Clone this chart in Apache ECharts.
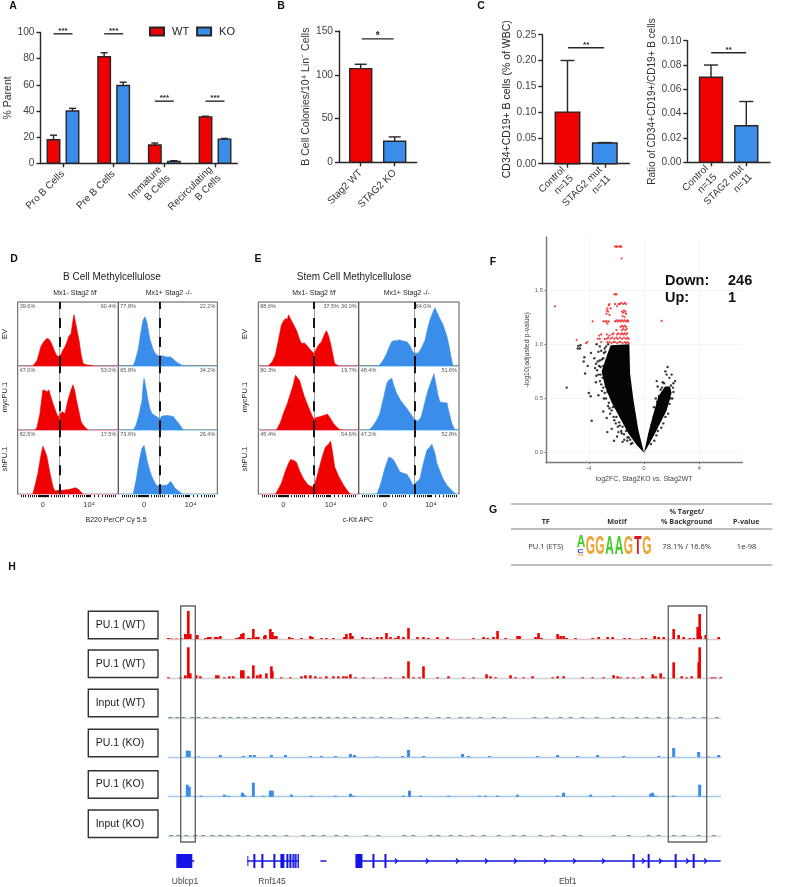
<!DOCTYPE html>
<html>
<head>
<meta charset="utf-8">
<title>Stag2 figure</title>
<script src="https://cdn.jsdelivr.net/npm/echarts@6/dist/echarts.min.js"></script>
<style>
html, body { margin: 0; padding: 0; background: #fff; }
#chart { width: 800px; height: 887px; }
</style>
</head>
<body>
<div id="chart"></div>
<script>
// panel A
const aCats = ['Pro B Cells', 'Pre B Cells', 'Immature\nB Cells', 'Recirculating\nB Cells'];
const aWt = [18, 81.5, 14, 35.5];
const aWtTop = [21.5, 84.5, 15.5, 36];
const aKo = [40, 59.5, 1.5, 18.5];
const aKoTop = [42, 62, 2, 19];
const aSig = [[0, 99, '***'], [1, 99, '***'], [2, 47.5, '***'], [3, 47.5, '***']];

// panel B
const bCats = ['Stag2 WT', 'STAG2 KO'];
const bVals = [107, 24];
const bTops = [112, 29];

// panel C
const cCats = ['Control\nn=15', 'STAG2 mut\nn=11'];
const c1Vals = [0.1, 0.04];
const c1Tops = [0.2, 0.041];
const c2Vals = [0.07, 0.03];
const c2Tops = [0.08, 0.05];

// panel D histograms, [percent of panel width, percent of row height]
const dWtEv = [[15,0],[17,4],[19,8],[21,18],[23,30],[25,36],[27,40],[29,43],[31,42],[33,37],[35,30],[37,22],[39,16],[41,15],[43,18],[45,25],[47,30],[49,38],[51,47],[53,50],[55,72],[56,80],[57,78],[59,56],[61,40],[63,18],[65,4],[68,2],[72,1],[75,0]];
const dKoEv = [[15,0],[17,8],[20,25],[23,55],[25,72],[27,77],[29,68],[32,41],[35,27],[37,20],[40,16],[42,14],[44,16],[46,17],[49,14],[51,12],[53,14],[56,10],[59,6],[62,3],[64,1],[66,0]];
const dWtMyc = [[17,0],[19,4],[22,25],[25,63],[27,62],[29,60],[31,63],[33,52],[35,42],[38,29],[40,21],[42,25],[44,29],[47,26],[50,47],[53,63],[55,71],[57,60],[58,50],[61,28],[63,13],[66,6],[70,0]];
const dKoMyc = [[15,0],[18,8],[21,25],[24,47],[25,70],[26,81],[28,65],[30,47],[32,33],[34,26],[37,23],[39,21],[42,18],[44,22],[46,25],[50,23],[56,21],[58,16],[61,11],[64,4],[66,0]];
const dWtSh = [[15,0],[17,12],[20,32],[23,60],[25,75],[27,68],[29,59],[31,42],[33,26],[35,12],[37,5],[41,6],[45,6],[49,7],[53,8],[57,10],[60,8],[62,5],[65,0]];
const dKoSh = [[15,0],[18,22],[20,42],[22,59],[24,72],[26,76],[28,62],[29,53],[32,36],[34,27],[37,18],[39,13],[42,14],[46,14],[49,14],[51,17],[53,20],[55,15],[57,10],[60,6],[64,1],[66,0]];

// panel E histograms
const eWtEv = [[10,0],[14,7],[17,17],[20,40],[23,64],[25,70],[27,74],[29,73],[30,80],[32,74],[33,72],[36,62],[38,56],[41,42],[43,35],[46,36],[48,33],[51,27],[55,20],[57,24],[60,33],[63,38],[66,50],[68,55],[70,47],[72,35],[74,20],[76,4],[80,0]];
const eKoEv = [[20,0],[24,8],[28,20],[31,32],[33,38],[36,40],[38,39],[40,41],[44,39],[48,38],[51,32],[54,22],[57,20],[59,20],[62,26],[66,40],[69,60],[71,72],[74,84],[76,91],[78,84],[81,74],[84,65],[88,46],[90,32],[92,15],[94,0]];
const eWtMyc = [[18,0],[22,12],[25,26],[29,42],[32,57],[35,72],[37,86],[39,82],[41,78],[44,62],[46,52],[50,36],[53,25],[55,18],[58,20],[61,21],[65,23],[69,25],[72,18],[75,10],[78,5],[81,1],[85,0]];
const eKoMyc = [[10,0],[14,6],[18,16],[21,26],[25,52],[28,73],[30,78],[33,81],[35,70],[38,57],[42,46],[48,34],[52,25],[55,18],[59,14],[62,20],[64,31],[67,50],[69,62],[72,75],[75,88],[77,72],[79,55],[81,44],[85,43],[88,43],[90,28],[93,10],[96,0]];
const eWtSh = [[17,0],[20,8],[23,17],[27,36],[30,48],[32,54],[35,53],[38,50],[41,37],[45,24],[48,18],[50,14],[55,11],[58,25],[61,43],[64,60],[67,74],[70,78],[72,83],[74,65],[76,43],[80,28],[85,14],[88,7],[91,1],[93,0]];
const eKoSh = [[18,0],[21,12],[23,22],[26,40],[30,58],[33,56],[35,53],[38,44],[41,35],[44,33],[48,31],[51,24],[54,14],[57,18],[61,24],[64,45],[68,69],[71,74],[73,78],[76,64],[78,48],[81,36],[84,24],[88,14],[94,4],[97,0]];

const dGate = [41.5, 41.7];
const eGate = [55.5, 55.8];
const flowTicks = [4,6,8,10,12,14,16,18,20,21,22,23,24,25,26,27,28,29,30,33,36,38,40,42,44,46,50,55,58,60,62,64,66,68,69,70,71,72,76,80,84,87,89,91,93,95,97];
const dPct = [
  [['39.6%'], ['60.4%']], [['77.8%'], ['22.2%']],
  [['47.0%'], ['53.0%']], [['65.8%'], ['34.2%']],
  [['82.5%'], ['17.5%']], [['73.6%'], ['26.4%']]
];
const ePct = [
  [['88.6%'], ['36.0%']], [[''], ['']],
  [['80.3%'], ['19.7%']], [['48.4%'], ['51.6%']],
  [['45.4%'], ['54.6%']], [['47.2%'], ['52.8%']]
];

// panel F, [log2FC, -log10 p]
const denseDown = [[0,0],[-0.53,0.07],[-1.14,0.18],[-1.74,0.32],[-2.34,0.46],[-2.83,0.61],[-3.07,0.75],[-2.71,0.89],[-2.42,0.99],[-1.06,1.0],[-1.01,0.73],[-0.77,0.49],[-0.41,0.21]];
const denseUp = [[0,0],[0.31,0.18],[0.68,0.36],[1.04,0.52],[1.52,0.61],[1.88,0.61],[2.0,0.55],[1.64,0.39],[1.16,0.27],[0.68,0.15],[0.19,0.04]];
const nsPoints = [[-5.6,0.6],[-4.0,0.55],[-3.86,0.52],[-3.79,0.295],[-4.76,0.985],[-4.6,0.99],[-4.8,0.96],[-4.64,0.96],[-4.32,0.88],[-4.37,0.84],[-4.08,0.8],[-4.27,0.73],[-3.84,0.92],[-3.43,1.0],[-3.6,0.87],[-3.48,0.82],[-3.3,0.93],[-3.2,0.85],[-2.95,0.38],[-2.7,0.32],[-2.66,0.19],[-2.17,0.11],[-2.34,0.22],[-1.86,0.19],[-1.62,0.18],[-1.43,0.12],[-1.21,0.11],[-3.48,0.65],[-3.19,0.66],[-3.3,0.53],[-3.4,0.76],[-3.3,0.72],[-3.25,0.8],[-3.1,0.94],[-2.9,0.92],[-2.75,0.98],[-2.6,1.0],[-2.55,0.7],[-3.05,0.57],[-2.9,0.5],[-2.6,0.43],[-2.45,0.36],[-2.2,0.33],[-2.05,0.27],[-1.75,0.25],[-1.55,0.24],[-1.3,0.2],[-1.0,0.12],[-0.85,0.09],[-1.55,0.1],[-1.95,0.15],[-3.55,0.78],[-3.45,0.71],[-3.35,0.84],[-3.15,0.79],[-3.15,0.72],[-3.05,0.86],[-2.95,0.8],[-3.0,0.69],[-3.1,0.63],[-2.95,0.6],[-2.85,0.55],[-2.75,0.5],[-2.65,0.56],[-2.55,0.46],[-2.5,0.41],[-2.35,0.39],[-2.25,0.42],[-2.15,0.3],[-2.0,0.33],[-1.9,0.24],[-1.8,0.28],[-1.65,0.2],[-1.45,0.17],[-1.2,0.14],[-2.85,0.96],[-3.2,0.98],[-2.95,0.87],[-2.8,0.93],[-1.1,0.14],[-0.95,0.08],[1.71,0.79],[1.55,0.75],[1.64,0.72],[2.0,0.72],[1.84,0.69],[2.25,0.66],[2.13,0.64],[0.92,0.66],[0.99,0.61],[0.85,0.5],[1.09,0.52],[2.13,0.56],[1.3,0.6],[1.95,0.62],[2.05,0.5],[1.85,0.45],[1.75,0.36],[1.4,0.27],[1.0,0.2],[0.75,0.11],[0.72,0.42],[1.35,0.65],[1.45,0.64],[1.2,0.58],[0.95,0.47],[0.7,0.33],[0.55,0.26],[0.4,0.17],[1.55,0.33],[1.25,0.23],[0.9,0.16],[0.5,0.08],[2.1,0.6],[1.92,0.5]];
const sigPoints = [[-2.1,1.9],[-2.0,1.9],[-1.95,1.9],[-1.8,1.9],[-1.7,1.9],[-1.65,1.9],[-1.62,1.79],[-2.15,1.46],[-2.05,1.46],[-2.0,1.46],[-6.45,1.35],[1.28,1.215],[-3.72,1.21],[-4.88,1.04],[-4.2,1.01],[-4.1,1.02],[-2.55,1.36],[-2.5,1.37],[-2.65,1.33],[-2.7,1.31],[-2.72,1.28],[-2.6,1.3],[-2.5,1.27],[-2.42,1.33],[-2.1,1.37],[-1.95,1.35],[-1.85,1.37],[-1.75,1.37],[-1.65,1.38],[-1.5,1.37],[-1.4,1.38],[-1.3,1.37],[-1.6,1.3],[-1.5,1.29],[-1.45,1.31],[-1.35,1.3],[-1.3,1.28],[-1.55,1.26],[-1.42,1.25],[-2.95,1.21],[-2.8,1.21],[-2.7,1.21],[-2.55,1.21],[-2.65,1.19],[-2.1,1.21],[-2.0,1.22],[-1.9,1.21],[-1.8,1.22],[-1.7,1.21],[-1.6,1.22],[-1.5,1.21],[-1.4,1.22],[-1.3,1.21],[-1.2,1.22],[-1.15,1.21],[-1.7,1.16],[-1.6,1.17],[-1.5,1.16],[-1.4,1.17],[-1.3,1.16],[-2.0,1.13],[-1.6,1.13],[-1.5,1.14],[-1.35,1.13],[-1.25,1.14],[-2.3,1.09],[-2.2,1.1],[-1.95,1.09],[-1.85,1.1],[-1.7,1.09],[-1.6,1.1],[-1.5,1.09],[-1.4,1.1],[-1.3,1.09],[-1.2,1.1],[-3.25,1.08],[-3.1,1.09],[-2.7,1.09],[-2.5,1.08],[-3.35,1.05],[-3.2,1.05],[-2.85,1.05],[-2.7,1.05],[-2.6,1.06],[-2.45,1.05],[-2.3,1.06],[-2.15,1.05],[-2.0,1.06],[-1.9,1.05],[-1.75,1.06],[-1.6,1.05],[-1.45,1.06],[-1.3,1.05],[-1.2,1.06],[-1.1,1.05],[-3.1,1.02],[-2.65,1.02],[-2.5,1.02],[-2.35,1.01],[-2.2,1.02],[-2.1,1.02],[-1.95,1.01],[-1.8,1.02],[-1.7,1.02],[-1.55,1.01],[-1.4,1.02],[-1.3,1.01],[-1.2,1.02],[-1.1,1.01]];

// panel H, [position, height]
const pu1Wt1 = [[0,1],[3,0.5],[8,0.5],[13,1],[17,5],[18,5],[20,28],[22,5],[29,4],[37,1],[40,2],[42,2],[47,2],[49,2],[52,3],[68,1],[71,2],[73,5],[75,6],[80,1],[82,1],[85,10],[88,2],[90,2],[96,3],[97,4],[102,10],[104,7],[106,3],[108,3],[121,2],[124,1],[133,1],[142,3],[144,2],[153,1],[158,1],[165,1],[176,2],[178,5],[182,6],[184,3],[194,2],[198,1],[202,1],[209,2],[213,2],[218,6],[222,2],[227,1],[230,3],[235,2],[240,11],[249,2],[255,2],[260,1],[269,2],[279,2],[305,1],[315,2],[319,1],[325,2],[329,8],[337,1],[349,3],[351,3],[367,2],[370,6],[373,1],[389,5],[392,3],[395,3],[398,1],[407,1],[424,1],[430,2],[439,2],[444,2],[456,1],[461,1],[473,1],[477,1],[486,3],[490,2],[495,2],[505,10],[510,4],[515,2],[521,1],[525,1],[529,12],[531,25],[532,3],[537,4],[550,2]];
const pu1Wt2 = [[0,1],[12,1],[17,3],[20,31],[22,5],[28,3],[32,2],[48,3],[50,3],[56,1],[61,2],[65,2],[73,8],[75,8],[80,2],[85,13],[89,3],[92,4],[98,5],[103,12],[104,7],[113,1],[122,1],[133,2],[137,3],[142,3],[147,2],[152,1],[158,2],[165,2],[170,2],[175,2],[178,2],[182,4],[187,1],[195,1],[205,1],[217,1],[222,1],[235,2],[240,17],[245,1],[251,1],[255,12],[269,1],[280,2],[295,1],[305,1],[318,4],[322,2],[327,1],[342,3],[347,1],[355,1],[364,2],[384,1],[389,2],[395,2],[414,1],[424,1],[435,1],[445,3],[449,2],[452,1],[459,1],[465,1],[474,2],[484,4],[487,2],[492,5],[495,1],[505,16],[513,2],[518,1],[523,2],[530,16],[531,31],[543,1],[546,1],[552,1]];
const inputWt = [[2,1],[9,1],[15,1],[24,1],[30,1],[38,1],[46,1],[55,1],[62,1],[70,1],[77,1],[86,1],[94,1],[101,1],[110,1],[118,1],[128,1],[136,1],[145,1],[152,1],[160,1],[169,1],[177,1],[186,1],[195,1],[203,1],[213,1],[222,1],[238,1],[248,1],[258,1],[270,1],[280,1],[292,1],[300,1],[312,1],[325,1],[336,1],[366,1],[378,1],[392,1],[402,1],[414,1],[428,1],[444,1],[454,1],[468,1],[478,1],[490,1],[500,1],[512,1],[525,1],[535,1],[548,1]];
const pu1Ko1 = [[19,6.5],[21,6],[30,0.5],[52,2],[75,1],[82,2],[86,2],[103,2],[117,2],[142,1],[153,1],[167,1],[182,3],[186,2],[208,0.5],[234,1],[240,7],[255,1],[294,3],[300,1],[321,1],[369,1],[389,2],[409,1],[429,2],[455,1],[490,1],[505,9],[530,5],[540,0.5],[550,2]];
const pu1Ko2 = [[19,12],[21,10],[33,1],[56,2],[60,1],[74,4],[76,2],[85,14],[95,1],[102,6],[104,6],[123,2],[143,1],[167,1],[182,3],[185,1],[235,1],[241,6],[252,1],[280,1],[311,1],[317,1],[329,1],[349,2],[389,1],[395,4],[422,2],[445,1],[482,3],[484,4],[487,1],[505,1],[531,12],[536,0.5]];
const inputKo = [[3,1],[10,1],[18,1],[27,1],[35,1],[44,1],[52,1],[60,1],[70,1],[80,1],[90,1],[98,1],[106,1],[118,1],[135,1],[145,1],[155,1],[168,1],[178,1],[198,1],[210,1],[236,1],[245,1],[262,1],[270,1],[282,1],[292,1],[304,1],[315,1],[330,1],[345,1],[355,1],[372,1],[384,1],[396,1],[412,1],[445,1],[460,1],[480,1],[490,1],[505,1],[515,1],[530,1],[545,1]];
const geneLines = [[13,26],[79,130],[152,158],[187,552]];
const geneExons = [[8,24,14],[79,80,10],[85,87,14],[93,95,14],[105,107,14],[112,116,14],[118,120,14],[121,123,14],[124,125.5,14],[126,127.5,14],[128,129,14],[129.5,130.5,14],[187,194,14],[204,206,14],[216,218,14],[464,466,14],[479,481,14],[506,508,14],[524,526,14]];
const geneArrows = [228,259,289,318,347,377,406,435,475,492,519,537];

const RED = '#f00000';
const BLUE = '#3a8eea';
const DARK = '#262626';
const FONT = '"Liberation Sans", Arial, sans-serif';

var grids = [], xAxes = [], yAxes = [], series = [], texts = [];

function label(x, y, text, size, opts) {
    opts = opts || {};
    texts.push({
        type: 'text', x: x, y: y, z: 20,
        rotation: opts.rot || 0,
        scaleX: opts.sx || 1, scaleY: opts.sy || 1,
        style: {
            text: text, fontFamily: opts.family || FONT, fontSize: size,
            fontWeight: opts.bold ? 'bold' : 'normal',
            fill: opts.color || '#222',
            align: opts.align || 'center', verticalAlign: 'middle'
        }
    });
}

function errorBars(idx, rows, cap) {
    return {
        type: 'custom', xAxisIndex: idx, yAxisIndex: idx, clip: false, silent: true, z: 3,
        data: rows,
        encode: { x: 0, y: 2 },
        renderItem: function(params, api) {
            var base = api.coord([api.value(0), api.value(1)]);
            var top = api.coord([api.value(0), api.value(2)]);
            var st = { stroke: DARK, lineWidth: 1.4 };
            return { type: 'group', children: [
                { type: 'line', shape: { x1: base[0], y1: base[1], x2: top[0], y2: top[1] }, style: st },
                { type: 'line', shape: { x1: top[0] - cap, y1: top[1], x2: top[0] + cap, y2: top[1] }, style: st }
            ] };
        }
    };
}

function sigBars(idx, rows, half, stars) {
    return {
        type: 'custom', xAxisIndex: idx, yAxisIndex: idx, clip: false, silent: true,
        data: rows.map(function(r) { return [r[0], r[1]]; }),
        renderItem: function(params, api) {
            var p = api.coord([api.value(0), api.value(1)]);
            return { type: 'group', children: [
                { type: 'line', shape: { x1: p[0] - half, y1: p[1], x2: p[0] + half, y2: p[1] }, style: { stroke: DARK, lineWidth: 1.4 } },
                { type: 'text', style: { text: rows[params.dataIndex][2], x: p[0], y: p[1] - 3, align: 'center', verticalAlign: 'middle', fontSize: stars, fontWeight: 'bold', fontFamily: FONT, fill: '#222' } }
            ] };
        }
    };
}

// one GraphPad style bar panel; x0 and step place category 0 and the category spacing
function barAxes(o) {
    var idx = grids.length;
    grids.push({ left: o.left, top: o.top, width: o.right - o.left, height: o.bottom - o.top });
    var ticks = o.cats.map(function(c, i) { return i; });
    xAxes.push({
        gridIndex: idx, type: 'value',
        min: (o.left - o.x0) / o.step, max: (o.right - o.x0) / o.step,
        splitLine: { show: false },
        axisLine: { onZero: false, lineStyle: { color: DARK, width: 1.4 } },
        axisTick: { length: 4, lineStyle: { color: DARK, width: 1.4 }, customValues: ticks },
        axisLabel: {
            customValues: ticks, rotate: 45, margin: 9, fontSize: o.catSize || 10, fontFamily: FONT, color: '#333',
            lineHeight: o.catLine || 12,
            formatter: function(v) { return o.cats[Math.round(v)]; }
        }
    });
    yAxes.push({
        gridIndex: idx, type: 'value', min: 0, max: o.max, interval: o.interval,
        name: o.name, nameLocation: 'middle', nameGap: o.nameGap,
        nameTextStyle: { fontSize: o.nameSize || 10.5, fontFamily: FONT, color: o.nameColor || '#333' },
        splitLine: { show: false },
        axisLine: { show: true, onZero: false, lineStyle: { color: DARK, width: 1.4 } },
        axisTick: { show: true, length: 4, lineStyle: { color: DARK, width: 1.4 } },
        axisLabel: {
            margin: 6, fontSize: 10.2, fontFamily: FONT, color: '#444',
            formatter: function(v) { return o.digits ? v.toFixed(o.digits) : String(v); }
        }
    });
    return idx;
}

// bars are custom rects: a real bar series on a value axis widens the axis range
function barSeries(idx, name, rows, color, width, noBorder) {
    return {
        type: 'custom', name: name, xAxisIndex: idx, yAxisIndex: idx, silent: true,
        data: rows, encode: { x: 0, y: 1 },
        itemStyle: { color: color, borderColor: DARK, borderWidth: 1.4 },
        renderItem: function(params, api) {
            var top = api.coord([api.value(0), api.value(1)]);
            var base = api.coord([api.value(0), 0]);
            return {
                type: 'rect',
                shape: { x: top[0] - width / 2, y: top[1], width: width, height: base[1] - top[1] },
                style: noBorder ? { fill: color } : { fill: color, stroke: DARK, lineWidth: 1.4 }
            };
        }
    };
}

// panel A
var ai = barAxes({ left: 40.5, right: 237.3, top: 32.5, bottom: 163.3, x0: 63, step: 50.67, cats: aCats, max: 100, interval: 20, name: '% Parent', nameGap: 27 });
var aShift = 0.1875;
var aWtX = aCats.map(function(c, i) { return i - aShift; });
var aKoX = aCats.map(function(c, i) { return i + aShift; });
series.push(barSeries(ai, 'WT', aWt.map(function(v, i) { return [aWtX[i], v]; }), RED, 12.5));
series.push(barSeries(ai, 'KO', aKo.map(function(v, i) { return [aKoX[i], v]; }), BLUE, 12.5));
series.push(errorBars(ai, aWt.map(function(v, i) { return [aWtX[i], v, aWtTop[i]]; }), 3.5));
series.push(errorBars(ai, aKo.map(function(v, i) { return [aKoX[i], v, aKoTop[i]]; }), 3.5));
series.push(sigBars(ai, aSig, 9.5, 8));

// panel B
var bi = barAxes({ left: 339, right: 416.7, top: 31, bottom: 162.3, x0: 360.7, step: 34, cats: bCats, max: 150, interval: 50, name: 'B Cell Colonies/10⁴ Lin⁻ Cells', nameGap: 26 });
series.push(barSeries(bi, 'Stag2 WT', [[0, bVals[0]]], RED, 22));
series.push(barSeries(bi, 'STAG2 KO', [[1, bVals[1]]], BLUE, 22));
series.push(errorBars(bi, bVals.map(function(v, i) { return [i, v, bTops[i]]; }), 6));
series.push(sigBars(bi, [[0.5, 141, '*']], 16, 10));

// panel C, left
var c1 = barAxes({ left: 542.3, right: 629.3, top: 34.7, bottom: 163.7, x0: 567.5, step: 37.3, cats: cCats, max: 0.25, interval: 0.05, digits: 2, name: 'CD34+CD19+ B cells (% of WBC)', nameGap: 29, nameSize: 10.5, nameColor: '#222' });
series.push(barSeries(c1, 'Control', [[0, c1Vals[0]]], RED, 24.5));
series.push(barSeries(c1, 'STAG2 mut', [[1, c1Vals[1]]], BLUE, 24.5));
series.push(errorBars(c1, c1Vals.map(function(v, i) { return [i, v, c1Tops[i]]; }), 7));
series.push(sigBars(c1, [[0.5, 0.2248, '**']], 18, 8));

// panel C, right
var c2 = barAxes({ left: 687.3, right: 770, top: 40.7, bottom: 162.3, x0: 711, step: 35.3, cats: cCats, max: 0.1, interval: 0.02, digits: 2, name: 'Ratio of CD34+CD19+/CD19+ B cells', nameGap: 26, nameSize: 10 });
series.push(barSeries(c2, 'Control ratio', [[0, c2Vals[0]]], RED, 23));
series.push(barSeries(c2, 'STAG2 mut ratio', [[1, c2Vals[1]]], BLUE, 23));
series.push(errorBars(c2, c2Vals.map(function(v, i) { return [i, v, c2Tops[i]]; }), 7));
series.push(sigBars(c2, [[0.5, 0.0901, '**']], 17.5, 8));

// flow histogram panel
function flowPanel(box, rows, color, baseColor, gate, pct, zeroAt, tenAt, bottomRow) {
    var idx = grids.length;
    grids.push({ left: box.x, top: box.y, width: box.w, height: box.h, show: true, borderColor: '#555', borderWidth: 1, backgroundColor: 'transparent' });
    xAxes.push({
        gridIndex: idx, type: 'value', min: 0, max: 100,
        splitLine: { show: false },
        axisLine: { show: false },
        axisTick: { show: bottomRow, length: 3, lineStyle: { color: '#111', width: 1 }, customValues: flowTicks },
        axisLabel: {
            show: bottomRow, customValues: [zeroAt, tenAt], margin: 7, fontSize: 7.5, fontFamily: FONT, color: '#333',
            formatter: function(v) { return v === zeroAt ? '0' : '10⁴'; }
        }
    });
    yAxes.push({ gridIndex: idx, type: 'value', min: 0, max: 100, show: false, splitLine: { show: false } });
    series.push({
        type: 'line', xAxisIndex: idx, yAxisIndex: idx, data: rows, symbol: 'none', silent: true,
        lineStyle: { color: color, width: 0.6 },
        areaStyle: { color: color, opacity: 1 },
        markLine: {
            silent: true, symbol: 'none', animation: false, label: { show: false },
            data: [
                { yAxis: 0, lineStyle: { color: baseColor, width: 1.2, type: 'solid' } },
                { xAxis: gate, lineStyle: { color: '#888', width: 0.8, type: 'solid' } },
                { xAxis: gate, lineStyle: { color: '#000', width: 1.8, type: [10, 9] } }
            ]
        }
    });
    series.push({
        type: 'custom', xAxisIndex: idx, yAxisIndex: idx, silent: true, z: 6,
        data: [[2, 93], [98, 93]],
        renderItem: function(params, api) {
            var p = api.coord([api.value(0), api.value(1)]);
            return { type: 'text', style: {
                text: pct[params.dataIndex][0], x: p[0], y: p[1],
                align: params.dataIndex ? 'right' : 'left', verticalAlign: 'middle',
                fontSize: 5.5, fontFamily: FONT, fill: '#555'
            } };
        }
    });
}

var rowTops = [302, 366.2, 430.2];
var rowH = 64;
var dHist = [dWtEv, dKoEv, dWtMyc, dKoMyc, dWtSh, dKoSh];
var eHist = [eWtEv, eKoEv, eWtMyc, eKoMyc, eWtSh, eKoSh];
dHist.forEach(function(rows, i) {
    var col = i % 2, row = Math.floor(i / 2);
    flowPanel({ x: col ? 118.3 : 17.7, y: rowTops[row], w: col ? 99 : 100.6, h: rowH }, rows,
        col ? BLUE : RED, col ? '#a6dcf8' : '#f8a8c0', dGate[col], dPct[i],
        col ? 26 : 25, col ? 73 : 71, row === 2);
});
eHist.forEach(function(rows, i) {
    var col = i % 2, row = Math.floor(i / 2);
    flowPanel({ x: col ? 358.7 : 258.3, y: rowTops[row], w: col ? 100.3 : 100.4, h: rowH }, rows,
        col ? BLUE : RED, col ? '#a6dcf8' : '#f8a8c0', eGate[col], ePct[i],
        col ? 26 : 25, 72, row === 2);
});

// panel F
var vi = grids.length;
grids.push({ left: 546, top: 237, width: 196.3, height: 225.7 });
xAxes.push({
    gridIndex: vi, type: 'value', min: -7.1, max: 7.12,
    name: 'log2FC, Stag2KO vs. Stag2WT', nameLocation: 'middle', nameGap: 13,
    nameTextStyle: { fontSize: 7, fontFamily: FONT, color: '#444' },
    splitLine: { show: true, lineStyle: { color: '#f2f2f2', width: 0.8 } },
    axisLine: { onZero: false, lineStyle: { color: '#777', width: 1.4 } },
    axisTick: { length: 1.5, lineStyle: { color: '#777' }, customValues: [-4, 0, 4] },
    axisLabel: { customValues: [-4, 0, 4], margin: 3, fontSize: 6, fontFamily: FONT, color: '#666' }
});
yAxes.push({
    gridIndex: vi, type: 'value', min: -0.092, max: 1.988,
    name: '-log10(adjusted p-value)', nameLocation: 'middle', nameGap: 11,
    nameTextStyle: { fontSize: 7, fontFamily: FONT, color: '#444' },
    splitLine: { show: true, lineStyle: { color: '#f2f2f2', width: 0.8 } },
    axisLine: { show: true, onZero: false, lineStyle: { color: '#777', width: 1.4 } },
    axisTick: { show: true, length: 1.5, lineStyle: { color: '#777' }, customValues: [0, 0.5, 1, 1.5] },
    axisLabel: { customValues: [0, 0.5, 1, 1.5], margin: 3, fontSize: 6, fontFamily: FONT, color: '#666', formatter: function(v) { return v.toFixed(1); } }
});
function denseArea(rows) {
    return {
        type: 'custom', xAxisIndex: vi, yAxisIndex: vi, silent: true,
        data: rows, encode: { x: 0, y: 1 },
        renderItem: function(params, api) {
            if (params.dataIndex) return null;
            return { type: 'polygon', shape: { points: rows.map(function(p) { return api.coord(p); }) }, style: { fill: '#050505' } };
        }
    };
}
series.push(denseArea(denseDown));
series.push(denseArea(denseUp));
series.push({ type: 'scatter', xAxisIndex: vi, yAxisIndex: vi, data: nsPoints, symbolSize: 2.4, silent: true, itemStyle: { color: '#050505' } });
series.push({ type: 'scatter', xAxisIndex: vi, yAxisIndex: vi, data: sigPoints, symbolSize: 2.2, silent: true, itemStyle: { color: '#f01010' } });

// panel H tracks
var trackRows = [
    [pu1Wt1, 639, RED, '#e0c4c4', 2.6, 'PU.1 WT 1'],
    [pu1Wt2, 678.3, RED, '#ccd4d4', 2.6, 'PU.1 WT 2'],
    [inputWt, 718, '#7f8c8c', '#ccd8d8', 4, 'Input WT'],
    [pu1Ko1, 757, BLUE, '#a8c8e8', 3, 'PU.1 KO 1'],
    [pu1Ko2, 796.7, BLUE, '#a8c8e8', 3, 'PU.1 KO 2'],
    [inputKo, 836, '#7f8c8c', '#ccd8d8', 4, 'Input KO']
];
trackRows.forEach(function(t) {
    var idx = grids.length;
    grids.push({ left: 168.3, top: t[1] - 32, width: 552.4, height: 32 });
    xAxes.push({ gridIndex: idx, type: 'value', min: 0, max: 552, splitLine: { show: false }, axisTick: { show: false }, axisLabel: { show: false }, axisLine: { lineStyle: { color: t[3], width: 1.4 } } });
    yAxes.push({ gridIndex: idx, type: 'value', min: 0, max: 32, show: false, splitLine: { show: false } });
    series.push(barSeries(idx, t[5], t[0], t[2], t[4], true));
});

// gene models share the track scale
var gi = grids.length;
var GENE = '#1414e6';
grids.push({ left: 168.3, top: 850, width: 552.4, height: 22 });
xAxes.push({ gridIndex: gi, type: 'value', min: 0, max: 552, show: false, splitLine: { show: false } });
yAxes.push({ gridIndex: gi, type: 'value', min: 0, max: 1, show: false, splitLine: { show: false } });
series.push({
    type: 'custom', xAxisIndex: gi, yAxisIndex: gi, silent: true, data: geneLines,
    renderItem: function(params, api) {
        var a = api.coord([api.value(0), 0.5]), b = api.coord([api.value(1), 0.5]);
        return { type: 'line', shape: { x1: a[0], y1: a[1], x2: b[0], y2: b[1] }, style: { stroke: GENE, lineWidth: 1.5 } };
    }
});
series.push({
    type: 'custom', xAxisIndex: gi, yAxisIndex: gi, silent: true, data: geneExons,
    renderItem: function(params, api) {
        var a = api.coord([api.value(0), 0.5]), b = api.coord([api.value(1), 0.5]);
        var h = api.value(2);
        return { type: 'rect', shape: { x: a[0], y: a[1] - h / 2, width: b[0] - a[0], height: h }, style: { fill: GENE } };
    }
});
series.push({
    type: 'custom', xAxisIndex: gi, yAxisIndex: gi, silent: true, data: geneArrows.map(function(p) { return [p, 0.5]; }),
    renderItem: function(params, api) {
        var p = api.coord([api.value(0), api.value(1)]);
        return { type: 'polyline', shape: { points: [[p[0] - 1.5, p[1] - 2.5], [p[0] + 1, p[1]], [p[0] - 1.5, p[1] + 2.5]] }, style: { stroke: GENE, fill: 'none', lineWidth: 1.3 } };
    }
});

// text and boxes that are not part of an axis
[['A', 13, 6], ['B', 281, 6], ['C', 481, 6], ['D', 14, 259], ['E', 258, 259], ['F', 493, 262], ['G', 493, 510], ['H', 12, 567]].forEach(function(l) {
    label(l[1], l[2], l[0], 10.5, { bold: true, color: '#111' });
});
label(112, 277, 'B Cell Methylcellulose', 10);
label(354, 277, 'Stem Cell Methylcellulose', 10);
label(75, 293, 'Mx1- Stag2 f/f', 7);
label(168.7, 293, 'Mx1+ Stag2 -/-', 7);
label(314, 293, 'Mx1- Stag2 f/f', 7);
label(406.7, 293, 'Mx1+ Stag2 -/-', 7);
[[334, 'EV'], [397, 'mycPU.1'], [459, 'shPU.1']].forEach(function(r) {
    label(4.5, r[0], r[1], 7.5, { rot: Math.PI / 2 });
    label(244.5, r[0], r[1], 7.5, { rot: Math.PI / 2 });
});
label(116, 520, 'B220 PerCP Cy 5.5', 7);
label(358, 520, 'c-Kit APC', 7);
label(339, 306, '37.5%', 5.5, { align: 'right', color: '#555' });
label(415.7, 306, '64.0%', 5.5, { align: 'left', color: '#555' });

label(665, 281, 'Down:', 14.5, { align: 'left', color: '#111', bold: true });
label(728, 281, '246', 14.5, { align: 'left', color: '#111', bold: true });
label(665, 298, 'Up:', 14.5, { align: 'left', color: '#111', bold: true });
label(728, 298, '1', 14.5, { align: 'left', color: '#111', bold: true });

// panel G table
var TABLE = '"Open Sans", sans-serif';
[504, 529, 565].forEach(function(y) {
    texts.push({ type: 'line', z: 20, shape: { x1: 511, y1: y, x2: 772.3, y2: y }, style: { stroke: '#aaa', lineWidth: 1.4 } });
});
[[545.7, 521.7, 'TF'], [617, 521.7, 'Motif'], [686.7, 511.7, '% Target/'], [686.7, 521.7, '% Background'], [746.3, 521.7, 'P-value']].forEach(function(c) {
    label(c[0], c[1], c[2], 7.2, { bold: true, family: TABLE, color: '#333' });
});
[[545.7, 'PU.1 (ETS)'], [686.7, '78.1% / 16.6%'], [746.6, '1e-98']].forEach(function(c) {
    label(c[0], 547.3, c[1], 7.5, { family: TABLE, color: '#333' });
});
[['A', 581, '#3ecf2a'], ['G', 590.5, '#f0a12e'], ['G', 600, '#f0a12e'], ['A', 609.5, '#3ecf2a'], ['A', 619, '#3ecf2a'], ['G', 628.5, '#f0a12e'], ['T', 638, '#e0141c'], ['G', 647, '#f0a12e']].forEach(function(m, i) {
    label(m[1], i ? 547 : 542.5, m[0], 26, { bold: true, color: m[2], sx: 0.46, sy: i ? 1 : 0.62 });
});
label(580.5, 551, 'C', 8, { bold: true, color: '#2a3fe0', sx: 1.1, sy: 0.7 });
label(580.5, 555, 'G', 6, { bold: true, color: '#f0a12e', sx: 1.3, sy: 0.6 });

// panel H frames
['PU.1 (WT)', 'PU.1 (WT)', 'Input (WT)', 'PU.1 (KO)', 'PU.1 (KO)', 'Input (KO)'].forEach(function(name, i) {
    var y = [611.3, 650, 689.3, 729.3, 770.7, 810][i];
    texts.push({ type: 'rect', z: 20, shape: { x: 88.3, y: y, width: 69.7, height: 27.5 }, style: { fill: '#fff', stroke: '#333', lineWidth: 1.4 } });
    label(95.7, y + 13.7, name, 10.5, { align: 'left', color: '#222' });
});
[[180.7, 14.6], [668.3, 38.4]].forEach(function(b) {
    texts.push({ type: 'rect', z: 20, shape: { x: b[0], y: 606, width: b[1], height: 236 }, style: { fill: 'none', stroke: '#666', lineWidth: 1.4 } });
});
label(185, 881.7, 'Ublcp1', 8.5, { color: '#444' });
label(272, 881.7, 'Rnf145', 8.5, { color: '#444' });
label(567.7, 881.7, 'Ebf1', 8.5, { color: '#444' });

var chart = echarts.init(document.getElementById('chart'));
chart.setOption({
    animation: false,
    backgroundColor: '#fff',
    textStyle: { fontFamily: FONT },
    legend: {
        data: ['WT', 'KO'], left: 149, top: 26, padding: 0, itemWidth: 14, itemHeight: 8, itemGap: 7, icon: 'rect',
        textStyle: { fontSize: 11, fontFamily: FONT, color: '#222', padding: [0, 0, 0, 3] },
        selectedMode: false
    },
    grid: grids,
    xAxis: xAxes,
    yAxis: yAxes,
    series: series,
    graphic: { elements: texts }
});
</script>
</body>
</html>
